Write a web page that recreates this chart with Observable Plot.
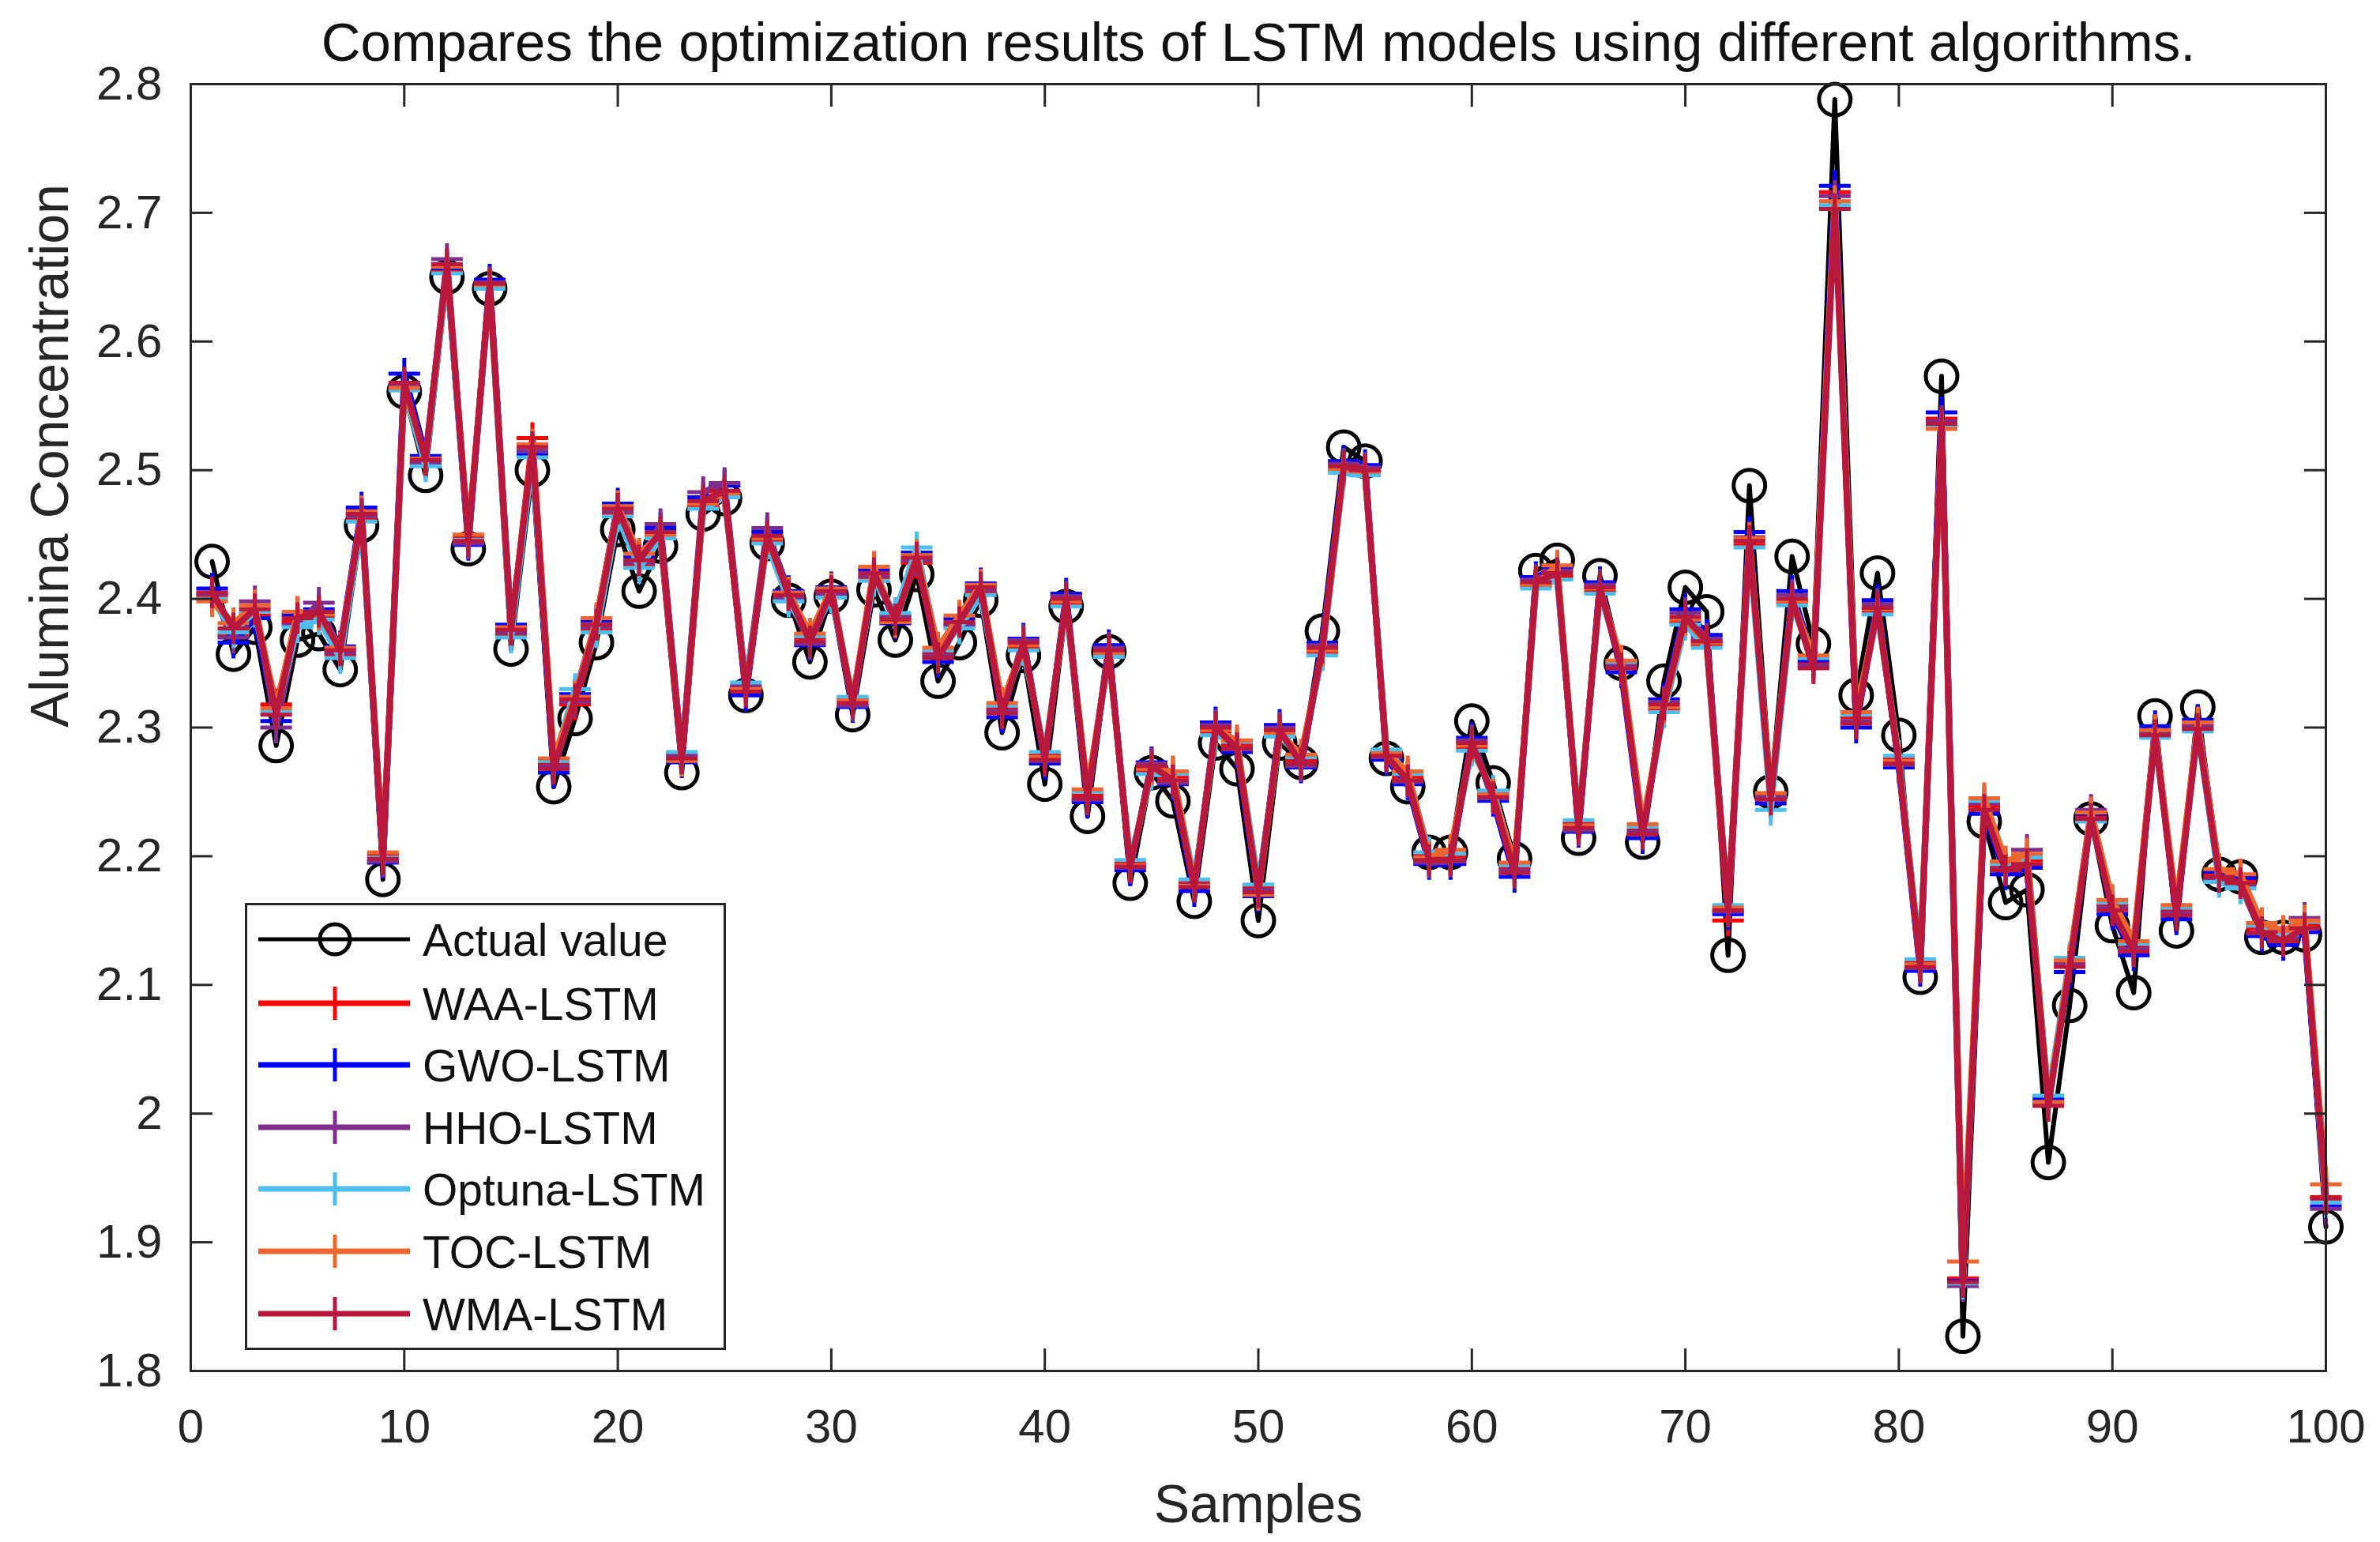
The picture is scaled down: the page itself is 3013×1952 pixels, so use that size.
<!DOCTYPE html>
<html><head><meta charset="utf-8">
<script src="https://cdn.jsdelivr.net/npm/d3@7"></script>
<script src="https://cdn.jsdelivr.net/npm/@observablehq/plot@0.6"></script>
<style>
html,body{margin:0;padding:0;background:#fff;}
#wrap{position:relative;width:3013px;height:1952px;overflow:hidden;}
#legend{position:absolute;left:310px;top:1143px;}
</style></head><body><div id="wrap"></div>
<script>
const titleText = "Compares the optimization results of LSTM models using different algorithms.";
const xLabel = "Samples";
const yLabel = "Alumina Concentration";
const xTicks = [0,10,20,30,40,50,60,70,80,90,100];
const yTicks = [1.8,1.9,2.0,2.1,2.2,2.3,2.4,2.5,2.6,2.7,2.8];
const seriesNames = ["Actual value","WAA-LSTM","GWO-LSTM","HHO-LSTM","Optuna-LSTM","TOC-LSTM","WMA-LSTM"];
const seriesColors = ["#000000","#ff0000","#0000ff","#7e2f8e","#4dbeee","#ee6530","#b8183c"];

const actual = [2.429,2.357,2.378,2.286,2.368,2.373,2.345,2.457,2.182,2.561,2.496,2.650,2.439,2.641,2.361,2.500,2.254,2.307,2.366,2.454,
2.406,2.441,2.265,2.466,2.478,2.325,2.443,2.399,2.351,2.402,2.310,2.407,2.368,2.419,2.336,2.366,2.399,2.296,2.356,2.256,
2.394,2.231,2.359,2.179,2.265,2.243,2.165,2.288,2.268,2.150,2.288,2.273,2.375,2.518,2.507,2.276,2.254,2.203,2.203,2.305,
2.257,2.198,2.422,2.430,2.214,2.418,2.350,2.211,2.336,2.409,2.390,2.123,2.488,2.250,2.433,2.365,2.788,2.325,2.420,2.294,
2.106,2.573,1.827,2.227,2.164,2.174,1.962,2.084,2.229,2.146,2.094,2.309,2.142,2.316,2.186,2.184,2.137,2.137,2.139,1.912];

const waa = [2.402,2.372,2.388,2.318,2.382,2.386,2.356,2.462,2.201,2.563,2.505,2.655,2.448,2.643,2.372,2.525,2.272,2.318,2.376,2.466,
2.426,2.449,2.279,2.472,2.481,2.331,2.445,2.400,2.370,2.403,2.322,2.416,2.387,2.428,2.358,2.379,2.405,2.315,2.362,2.279,
2.396,2.248,2.357,2.195,2.266,2.262,2.180,2.296,2.287,2.176,2.295,2.275,2.358,2.500,2.498,2.281,2.262,2.201,2.200,2.284,
2.249,2.191,2.410,2.417,2.226,2.406,2.349,2.221,2.314,2.382,2.364,2.150,2.442,2.248,2.397,2.350,2.716,2.308,2.390,2.276,
2.118,2.540,1.872,2.239,2.192,2.197,2.010,2.118,2.231,2.162,2.130,2.297,2.158,2.302,2.186,2.181,2.144,2.137,2.147,1.935];

const gwo = [2.408,2.366,2.385,2.305,2.388,2.392,2.363,2.471,2.195,2.575,2.511,2.657,2.442,2.648,2.380,2.512,2.265,2.326,2.383,2.474,
2.433,2.455,2.273,2.479,2.488,2.325,2.452,2.406,2.364,2.409,2.316,2.423,2.381,2.436,2.351,2.385,2.412,2.308,2.369,2.272,
2.404,2.242,2.364,2.189,2.273,2.256,2.173,2.304,2.281,2.169,2.302,2.269,2.366,2.507,2.504,2.275,2.256,2.194,2.194,2.292,
2.243,2.184,2.417,2.424,2.219,2.413,2.343,2.214,2.322,2.392,2.372,2.155,2.452,2.241,2.406,2.352,2.721,2.300,2.399,2.269,
2.111,2.545,1.870,2.233,2.186,2.191,2.012,2.110,2.233,2.155,2.123,2.301,2.151,2.306,2.188,2.183,2.138,2.131,2.141,1.928];

const hho = [2.404,2.370,2.398,2.300,2.380,2.397,2.358,2.464,2.196,2.566,2.506,2.664,2.443,2.646,2.374,2.515,2.270,2.320,2.378,2.468,
2.428,2.458,2.278,2.483,2.490,2.333,2.455,2.401,2.365,2.404,2.317,2.418,2.386,2.430,2.356,2.380,2.407,2.313,2.368,2.274,
2.402,2.244,2.362,2.191,2.272,2.257,2.178,2.302,2.283,2.174,2.300,2.270,2.364,2.505,2.502,2.277,2.258,2.195,2.196,2.290,
2.245,2.189,2.415,2.422,2.220,2.411,2.348,2.219,2.320,2.389,2.369,2.157,2.448,2.246,2.403,2.348,2.713,2.305,2.396,2.271,
2.113,2.538,1.866,2.241,2.190,2.205,2.008,2.116,2.236,2.160,2.128,2.296,2.156,2.301,2.182,2.177,2.140,2.136,2.152,1.926];

const optuna = [2.400,2.374,2.390,2.312,2.378,2.384,2.354,2.460,2.199,2.562,2.503,2.653,2.446,2.641,2.370,2.510,2.274,2.330,2.374,2.464,
2.424,2.447,2.281,2.470,2.479,2.335,2.443,2.398,2.371,2.401,2.324,2.414,2.389,2.440,2.360,2.377,2.403,2.317,2.360,2.281,
2.394,2.250,2.355,2.197,2.264,2.264,2.182,2.294,2.289,2.178,2.293,2.277,2.356,2.498,2.496,2.283,2.264,2.203,2.202,2.282,
2.251,2.193,2.408,2.415,2.228,2.404,2.351,2.223,2.312,2.380,2.362,2.162,2.440,2.236,2.395,2.354,2.706,2.310,2.388,2.278,
2.120,2.534,1.868,2.243,2.194,2.199,2.014,2.121,2.227,2.164,2.132,2.292,2.160,2.297,2.180,2.175,2.146,2.139,2.149,1.931];

const toc = [2.398,2.381,2.395,2.315,2.390,2.388,2.362,2.468,2.203,2.564,2.509,2.658,2.450,2.644,2.378,2.520,2.276,2.324,2.385,2.472,
2.435,2.450,2.274,2.474,2.482,2.330,2.447,2.405,2.373,2.408,2.321,2.425,2.382,2.434,2.362,2.387,2.411,2.319,2.364,2.277,
2.398,2.252,2.358,2.193,2.268,2.266,2.177,2.298,2.290,2.170,2.296,2.279,2.360,2.501,2.499,2.280,2.266,2.199,2.205,2.286,
2.248,2.195,2.411,2.426,2.224,2.408,2.352,2.225,2.316,2.384,2.366,2.160,2.447,2.249,2.398,2.356,2.709,2.312,2.392,2.274,
2.116,2.532,1.885,2.245,2.196,2.202,2.009,2.119,2.234,2.166,2.134,2.298,2.162,2.304,2.190,2.186,2.148,2.142,2.150,1.945];

const wma = [2.405,2.377,2.392,2.310,2.385,2.390,2.360,2.466,2.198,2.568,2.508,2.660,2.445,2.645,2.376,2.518,2.268,2.322,2.380,2.470,
2.430,2.452,2.276,2.476,2.484,2.328,2.449,2.403,2.367,2.406,2.319,2.420,2.384,2.432,2.354,2.382,2.409,2.311,2.366,2.275,
2.400,2.245,2.360,2.192,2.270,2.259,2.176,2.300,2.284,2.172,2.298,2.272,2.362,2.503,2.500,2.278,2.259,2.197,2.197,2.288,
2.246,2.187,2.413,2.420,2.222,2.409,2.346,2.217,2.318,2.386,2.367,2.158,2.445,2.244,2.400,2.346,2.703,2.303,2.393,2.272,
2.114,2.536,1.869,2.236,2.189,2.194,2.006,2.114,2.229,2.158,2.126,2.294,2.154,2.299,2.184,2.179,2.141,2.134,2.144,1.934];

const seriesValues = [actual, waa, gwo, hho, optuna, toc, wma];

const FONT = '"Liberation Sans", Arial, Helvetica, sans-serif';
const AXC = "#262626";

const rows = [];
seriesNames.forEach((name, k) => {
  seriesValues[k].forEach((v, i) => rows.push({series: name, sample: i + 1, value: v}));
});

const plusSymbol = {
  draw(ctx, size) {
    const r = Math.sqrt(size / Math.PI);
    ctx.moveTo(-r, 0); ctx.lineTo(r, 0);
    ctx.moveTo(0, -r); ctx.lineTo(0, r);
  }
};

const seriesMarks = [];
seriesNames.forEach((name, k) => {
  const data = rows.filter(d => d.series === name);
  const color = seriesColors[k];
  if (k === 0) {
    seriesMarks.push(Plot.line(data, {x: "sample", y: "value", stroke: color, strokeWidth: 6}));
    seriesMarks.push(Plot.dot(data, {x: "sample", y: "value", r: 20, stroke: color, strokeWidth: 5, fill: "none"}));
  } else {
    seriesMarks.push(Plot.line(data, {x: "sample", y: "value", stroke: color, strokeWidth: 8}));
    seriesMarks.push(Plot.dot(data, {x: "sample", y: "value", r: 20, symbol: plusSymbol, stroke: color, strokeWidth: 5, fill: "none"}));
  }
});

const fmtY = d => String(+d.toFixed(1));

const chart = Plot.plot({
  width: 3013,
  height: 1952,
  marginLeft: 241,
  marginRight: 69,
  marginTop: 106,
  marginBottom: 217,
  style: {fontFamily: FONT, background: "#ffffff", color: AXC},
  x: {domain: [0, 100]},
  y: {domain: [1.8, 2.8]},
  marks: [
    ...seriesMarks,
    Plot.frame({stroke: AXC, strokeWidth: 3}),
    Plot.axisX(xTicks, {anchor: "bottom", tickSize: 0, tickPadding: 48, fontSize: 60, label: null, fill: AXC}),
    Plot.axisY(yTicks, {anchor: "left", tickSize: 0, tickPadding: 36, fontSize: 60, label: null, fill: AXC, tickFormat: fmtY}),
    Plot.axisX(xTicks, {anchor: "bottom", tickSize: -28, tickFormat: () => "", label: null, stroke: AXC, strokeWidth: 3}),
    Plot.axisX(xTicks, {anchor: "top", tickSize: -28, tickFormat: () => "", label: null, stroke: AXC, strokeWidth: 3}),
    Plot.axisY(yTicks, {anchor: "left", tickSize: -28, tickFormat: () => "", label: null, stroke: AXC, strokeWidth: 3}),
    Plot.axisY(yTicks, {anchor: "right", tickSize: -28, tickFormat: () => "", label: null, stroke: AXC, strokeWidth: 3}),
    Plot.text([titleText], {text: d => d, frameAnchor: "top", dy: -52, fontSize: 69, lineAnchor: "middle", fill: "#111"}),
    Plot.text([xLabel], {text: d => d, frameAnchor: "bottom", dy: 170, fontSize: 68, lineAnchor: "middle", fill: AXC}),
    Plot.text([yLabel], {text: d => d, frameAnchor: "left", dx: -177, rotate: -90, fontSize: 68, lineAnchor: "middle", fill: AXC})
  ]
});

const wrap = document.getElementById("wrap");
wrap.appendChild(chart);

// Legend
const LW = 609, LH = 566;
const leg = d3.create("svg").attr("id", "legend").attr("width", LW).attr("height", LH)
  .style("font-family", FONT);
leg.append("rect").attr("x", 1.5).attr("y", 1.5).attr("width", LW - 3).attr("height", LH - 3)
  .attr("fill", "#fff").attr("stroke", AXC).attr("stroke-width", 3);
const rowY = [46, 127, 205, 284, 362, 441, 520];
seriesNames.forEach((name, k) => {
  const g = leg.append("g").attr("transform", `translate(0,${rowY[k]})`);
  const c = seriesColors[k];
  g.append("line").attr("x1", 17).attr("x2", 209).attr("y1", 0).attr("y2", 0)
    .attr("stroke", c).attr("stroke-width", k === 0 ? 5 : 7);
  if (k === 0) {
    g.append("circle").attr("cx", 114).attr("cy", 0).attr("r", 19).attr("fill", "none").attr("stroke", c).attr("stroke-width", 5);
  } else {
    g.append("path").attr("d", "M94,0H134M114,-21V21").attr("stroke", c).attr("stroke-width", 5).attr("fill", "none");
  }
  g.append("text").attr("x", 225).attr("y", 0).attr("dy", "0.36em").attr("font-size", 57).attr("fill", "#111").text(name);
});
wrap.appendChild(leg.node());
</script></body></html>
